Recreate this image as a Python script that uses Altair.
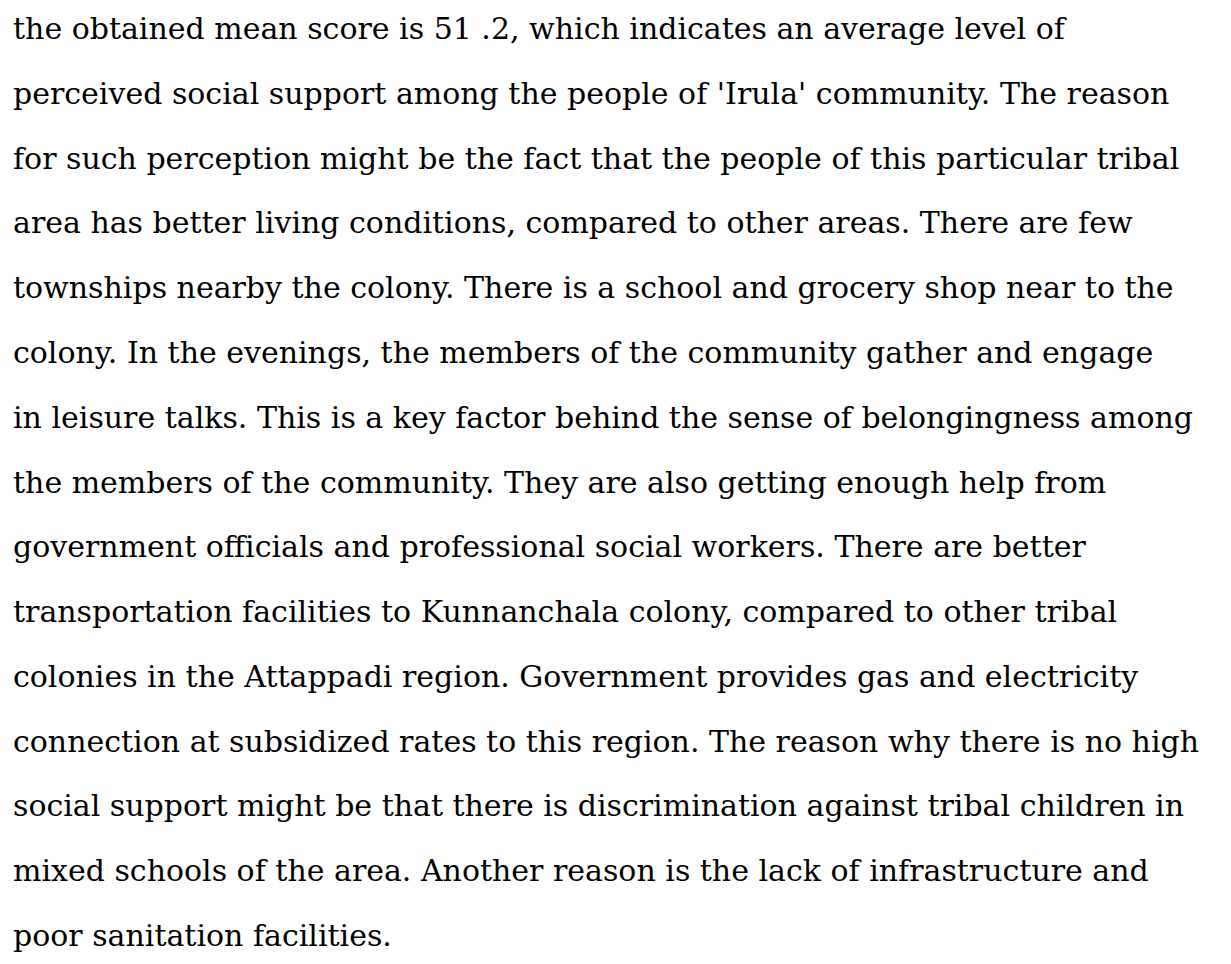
import altair as alt
import pandas as pd

lines = [
    "the obtained mean score is 51 .2, which indicates an average level of",
    "perceived social support among the people of 'Irula' community. The reason",
    "for such perception might be the fact that the people of this particular tribal",
    "area has better living conditions, compared to other areas. There are few",
    "townships nearby the colony. There is a school and grocery shop near to the",
    "colony. In the evenings, the members of the community gather and engage",
    "in leisure talks. This is a key factor behind the sense of belongingness among",
    "the members of the community. They are also getting enough help from",
    "government officials and professional social workers. There are better",
    "transportation facilities to Kunnanchala colony, compared to other tribal",
    "colonies in the Attappadi region. Government provides gas and electricity",
    "connection at subsidized rates to this region. The reason why there is no high",
    "social support might be that there is discrimination against tribal children in",
    "mixed schools of the area. Another reason is the lack of infrastructure and",
    "poor sanitation facilities.",
]
line_no = list(range(1, len(lines) + 1))

df = pd.DataFrame({"line": line_no, "text": lines})

chart = (
    alt.Chart(df)
    .mark_text(align="left", baseline="alphabetic", font="DejaVu Serif", fontSize=30, color="#000000")
    .encode(
        x=alt.value(5),
        y=alt.Y("line:O", axis=None,
                scale=alt.Scale(type="point", padding=0, range=[31, 938])),
        text="text:N",
    )
    .properties(width=1212, height=948, autosize=alt.AutoSizeParams(type="none"), padding=0)
    .configure_view(stroke=None)
)

chart.save("out.html", embed_options={"renderer": "svg", "actions": False})
